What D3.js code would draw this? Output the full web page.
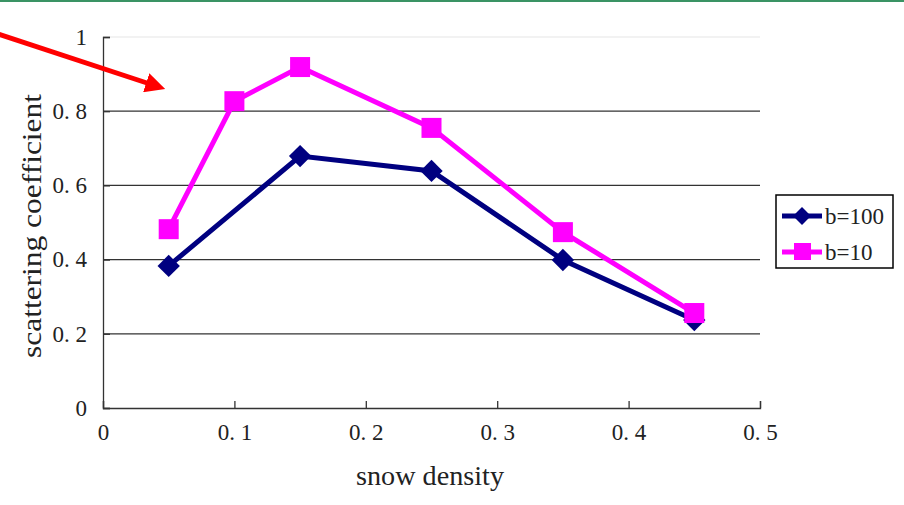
<!DOCTYPE html>
<html>
<head>
<meta charset="utf-8">
<script src="https://cdn.jsdelivr.net/npm/d3@7"></script>
<style>
  body { margin: 0; background: #fff; }
  text { font-family: "Liberation Serif", "DejaVu Serif", serif; fill: #222; }
</style>
</head>
<body>
<script>
// Screen dimensions.
const WIDTH = 904;
const HEIGHT = 505;

// Data.
const densities100 = [0.05, 0.15, 0.25, 0.35, 0.45];
const values100 = [0.383, 0.679, 0.639, 0.399, 0.237];
const densities10 = [0.05, 0.1, 0.15, 0.25, 0.35, 0.45];
const values10 = [0.482, 0.827, 0.919, 0.755, 0.474, 0.256];
const seriesNames = ["b=100", "b=10"];
const xTicks = [0, 0.1, 0.2, 0.3, 0.4, 0.5];
const yTicks = [0, 0.2, 0.4, 0.6, 0.8, 1];

const svg = d3.select("body").append("svg").attr("width", WIDTH).attr("height", HEIGHT);

// Scales
const x = d3.scaleLinear().domain([0, 0.5]).range([103, 760]);
const y = d3.scaleLinear().domain([0, 1]).range([408, 37]);

// Top green rule of the slide
svg.append("line").attr("x1", 0).attr("x2", WIDTH).attr("y1", 1).attr("y2", 1)
  .attr("stroke", "#3a9364").attr("stroke-width", 2);

// Gridlines
svg.append("g").selectAll("line").data(yTicks.filter(d => d > 0)).enter().append("line")
  .attr("x1", x(0)).attr("x2", x(0.5))
  .attr("y1", d => y(d)).attr("y2", d => y(d))
  .attr("stroke", d => d === 1 ? "#eeeeee" : "#333")
  .attr("stroke-width", d => d === 1 ? 1.5 : 1.3);

// Tick label format like "0. 2"
const fmt = d => d === 0 ? "0" : d === 1 ? "1" : d3.format(".1f")(d).replace(".", ". ");

// Y axis
const yAxis = svg.append("g").attr("transform", `translate(${x(0)},0)`)
  .call(d3.axisLeft(y).tickValues(yTicks).tickSize(-7).tickPadding(16).tickFormat(fmt));
yAxis.select(".domain").attr("stroke", "#333").attr("stroke-width", 1.3);
yAxis.selectAll(".tick line").attr("stroke", "#333").attr("stroke-width", 1.3);
yAxis.selectAll("text").style("font-size", "23px").attr("fill", "#222");

// X axis
const xAxis = svg.append("g").attr("transform", `translate(0,${y(0)})`)
  .call(d3.axisBottom(x).tickValues(xTicks).tickSize(-7).tickPadding(16).tickFormat(fmt));
xAxis.select(".domain").attr("stroke", "#333").attr("stroke-width", 1.3);
xAxis.selectAll(".tick line").attr("stroke", "#333").attr("stroke-width", 1.3);
xAxis.selectAll("text").style("font-size", "23px").attr("fill", "#222");

// Axis titles
svg.append("text").attr("x", 430).attr("y", 485).attr("text-anchor", "middle")
  .attr("textLength", 148).attr("lengthAdjust", "spacingAndGlyphs")
  .style("font-size", "27px").text("snow density");
svg.append("text").attr("transform", "translate(41,226) rotate(-90)").attr("text-anchor", "middle")
  .attr("textLength", 264).attr("lengthAdjust", "spacingAndGlyphs")
  .style("font-size", "27px").text("scattering coefficient");

// Lines
const line = d3.line().x(d => x(d[0])).y(d => y(d[1]));
const pts100 = densities100.map((d, i) => [d, values100[i]]);
const pts10 = densities10.map((d, i) => [d, values10[i]]);

svg.append("path").datum(pts100).attr("d", line)
  .attr("fill", "none").attr("stroke", "#000080").attr("stroke-width", 5);
svg.append("path").datum(pts10).attr("d", line)
  .attr("fill", "none").attr("stroke", "#ff00ff").attr("stroke-width", 5);

const diamond = d3.symbol().type(d3.symbolSquare).size(250);
svg.append("g").selectAll("path").data(pts100).enter().append("path")
  .attr("d", diamond)
  .attr("transform", d => `translate(${x(d[0])},${y(d[1])}) rotate(45)`)
  .attr("fill", "#000080");

svg.append("g").selectAll("rect").data(pts10).enter().append("rect")
  .attr("x", d => x(d[0]) - 10).attr("y", d => y(d[1]) - 10)
  .attr("width", 20).attr("height", 20)
  .attr("fill", "#ff00ff");

// Legend
const legend = svg.append("g").attr("transform", "translate(776,195)");
legend.append("rect").attr("x", 0).attr("y", 0).attr("width", 117).attr("height", 73)
  .attr("fill", "#fff").attr("stroke", "#000").attr("stroke-width", 1.5);
seriesNames.forEach((name, i) => {
  const ly = 21 + i * 36;
  const col = i === 0 ? "#000080" : "#ff00ff";
  legend.append("line").attr("x1", 6).attr("x2", 46).attr("y1", ly).attr("y2", ly)
    .attr("stroke", col).attr("stroke-width", 5);
  if (i === 0) {
    legend.append("path").attr("d", d3.symbol().type(d3.symbolSquare).size(160))
      .attr("transform", `translate(26,${ly}) rotate(45)`).attr("fill", col);
  } else {
    legend.append("rect").attr("x", 18).attr("y", ly - 9).attr("width", 17).attr("height", 17).attr("fill", col);
  }
  legend.append("text").attr("x", 49).attr("y", ly + 8).style("font-size", "23px").text(name);
});

// Red arrow
svg.append("defs").append("marker")
  .attr("id", "arrow").attr("viewBox", "0 0 10 10").attr("refX", 2).attr("refY", 5)
  .attr("markerWidth", 4).attr("markerHeight", 4).attr("orient", "auto")
  .append("path").attr("d", "M0,0 L10,5 L0,10 Z").attr("fill", "#ff0000");
svg.append("line").attr("x1", -2).attr("y1", 34).attr("x2", 150).attr("y2", 84)
  .attr("stroke", "#ff0000").attr("stroke-width", 5).attr("marker-end", "url(#arrow)");
</script>
</body>
</html>
